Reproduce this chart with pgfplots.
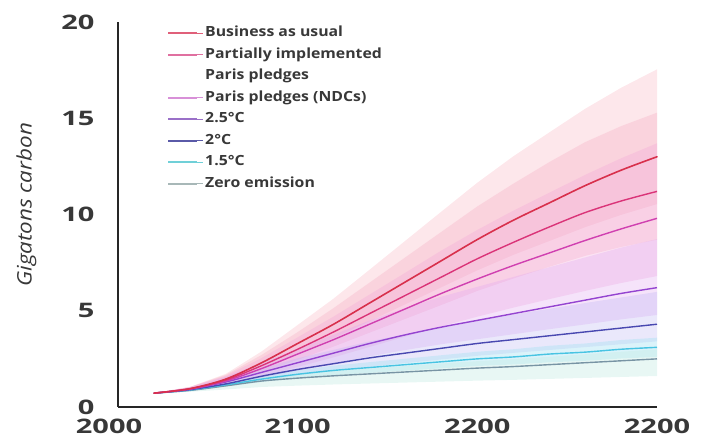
\documentclass[border=0pt]{standalone}
\usepackage{pgfplots}
\pgfplotsset{compat=1.18}
\usepackage{pgfplotstable}
\usepgfplotslibrary{fillbetween}
\usepackage{graphicx}
\usepackage{fontspec}
\setmainfont{Open Sans}

\definecolor{axisgray}{HTML}{262626}
\definecolor{labgray}{HTML}{383838}
\definecolor{cBAU}{HTML}{D8304C}
\definecolor{cPAR}{HTML}{DA3478}
\definecolor{cNDC}{HTML}{D040B0}
\definecolor{cTWOH}{HTML}{9444D0}
\definecolor{cTWO}{HTML}{4848B0}
\definecolor{cONEH}{HTML}{48C4E2}
\definecolor{cZERO}{HTML}{7894A4}
\definecolor{fBAU}{HTML}{F9C2CC}
\definecolor{fPAR}{HTML}{F6A6BE}
\definecolor{fNDC}{HTML}{F2A2D8}
\definecolor{fTWOH}{HTML}{DEA2F0}
\definecolor{fTWO}{HTML}{BAB2F2}
\definecolor{fONEH}{HTML}{A4E2F2}
\definecolor{fZERO}{HTML}{C6ECE4}
\definecolor{lBAU}{HTML}{E0607A}
\definecolor{lPAR}{HTML}{E070A0}
\definecolor{lNDC}{HTML}{D890D8}
\definecolor{lTWOH}{HTML}{9A70C8}
\definecolor{lTWO}{HTML}{5A5AA8}
\definecolor{lONEH}{HTML}{70D0D8}
\definecolor{lZERO}{HTML}{A8B8B8}

\newcommand{\tl}[1]{\scalebox{1.45}[1]{\bfseries #1}}
\newcommand{\lgx}[1]{\scalebox{1.13}[1]{#1}}

\pgfplotstableread{
yr lo mid hi
2020 0.72 0.72 0.72
2040 0.90 0.95 1.04
2060 1.30 1.45 1.72
2080 1.98 2.30 2.89
2100 2.78 3.30 4.26
2120 3.58 4.30 5.63
2140 4.46 5.40 7.13
2160 5.34 6.50 8.64
2180 6.22 7.60 10.15
2200 7.10 8.70 11.65
2220 7.90 9.70 13.02
2240 8.62 10.60 14.26
2260 9.34 11.50 15.49
2280 9.98 12.30 16.58
2300 10.54 13.00 17.54
}\tbau
\pgfplotstableread{
yr lo mid hi
2020 0.72 0.72 0.72
2040 0.90 0.95 1.04
2060 1.24 1.40 1.67
2080 1.81 2.15 2.71
2100 2.45 3.00 3.89
2120 3.14 3.90 5.14
2140 3.86 4.85 6.46
2160 4.58 5.80 7.78
2180 5.30 6.75 9.10
2200 6.03 7.70 10.42
2220 6.67 8.55 11.60
2240 7.28 9.35 12.72
2260 7.85 10.10 13.76
2280 8.31 10.70 14.59
2300 8.69 11.20 15.29
}\tpar
\pgfplotstableread{
yr lo mid hi
2020 0.72 0.72 0.72
2040 0.87 0.94 1.04
2060 1.14 1.35 1.62
2080 1.58 2.00 2.55
2100 2.08 2.75 3.62
2120 2.58 3.50 4.70
2140 3.12 4.30 5.84
2160 3.66 5.10 6.98
2180 4.19 5.90 8.13
2200 4.69 6.65 9.20
2220 5.16 7.35 10.20
2240 5.60 8.00 11.13
2260 6.03 8.65 12.06
2280 6.44 9.25 12.92
2300 6.80 9.80 13.70
}\tndc
\pgfplotstableread{
yr lo mid hi
2020 0.72 0.72 0.72
2040 0.87 0.92 1.01
2060 1.15 1.30 1.57
2080 1.52 1.80 2.30
2100 1.89 2.30 3.03
2120 2.26 2.80 3.76
2140 2.63 3.30 4.49
2160 2.96 3.75 5.14
2180 3.26 4.15 5.73
2200 3.52 4.50 6.24
2220 3.78 4.85 6.75
2240 4.04 5.20 7.26
2260 4.29 5.55 7.77
2280 4.55 5.90 8.28
2300 4.78 6.20 8.72
}\ttwoh
\pgfplotstableread{
yr lo mid hi
2020 0.72 0.72 0.72
2040 0.86 0.90 0.99
2060 1.08 1.20 1.43
2080 1.38 1.60 2.01
2100 1.64 1.95 2.53
2120 1.87 2.25 2.97
2140 2.09 2.55 3.41
2160 2.28 2.80 3.78
2180 2.47 3.05 4.15
2200 2.66 3.30 4.51
2220 2.81 3.50 4.81
2240 2.96 3.70 5.10
2260 3.11 3.90 5.40
2280 3.26 4.10 5.69
2300 3.41 4.30 5.98
}\ttwo
\pgfplotstableread{
yr lo mid hi
2020 0.72 0.72 0.72
2040 0.85 0.88 0.91
2060 1.06 1.15 1.24
2080 1.30 1.45 1.60
2100 1.49 1.70 1.91
2120 1.65 1.90 2.15
2140 1.77 2.05 2.33
2160 1.89 2.20 2.51
2180 2.01 2.35 2.69
2200 2.13 2.50 2.87
2220 2.21 2.60 3.00
2240 2.32 2.75 3.18
2260 2.40 2.85 3.30
2280 2.52 3.00 3.48
2300 2.60 3.10 3.60
}\toneh
\pgfplotstableread{
yr lo mid hi
2020 0.72 0.72 0.72
2040 0.79 0.86 0.90
2060 0.91 1.10 1.21
2080 1.04 1.35 1.53
2100 1.11 1.50 1.72
2120 1.17 1.62 1.87
2140 1.22 1.72 2.00
2160 1.27 1.82 2.13
2180 1.32 1.92 2.26
2200 1.37 2.02 2.38
2220 1.41 2.10 2.49
2240 1.46 2.20 2.61
2260 1.51 2.30 2.74
2280 1.56 2.40 2.87
2300 1.61 2.50 3.00
}\tzero

\begin{document}
\begin{tikzpicture}
\begin{axis}[
  name=ax,
  scale only axis, width=539pt, height=385pt,
  xmin=2000, xmax=2300, ymin=0, ymax=20,
  axis x line*=bottom, axis y line*=left,
  axis line style={line width=2.4pt, color=axisgray, -},
  xtick={2000,2100,2200,2300},
  xticklabels={\tl{2000}\kern18pt,\tl{2100},\tl{2200},\tl{2200}},
  ytick={0,5,10,15,20},
  yticklabels={\tl{0},\tl{5},\tl{10},\tl{15},\tl{20}},
  major tick length=0pt,
  tick label style={font=\fontsize{20}{20}\selectfont, text=labgray},
  xticklabel style={yshift=-8pt},
  yticklabel style={xshift=-20pt},
  ylabel={\scalebox{1.12}[1]{\itshape Gigatons carbon}},
  ylabel style={at={(axis description cs:-0.17,0.525)}, anchor=center, font=\fontsize{20}{20}\selectfont, text=labgray},
  legend image code/.code={\draw[#1, line width=2pt] (0pt,0pt) -- (29pt,0pt); \path (0pt,0pt) -- (35pt,0pt);},
  legend style={at={(axis description cs:0.085,1.0)}, anchor=north west, draw=none, fill=none,
    font=\bfseries\fontsize{14}{16}\selectfont, text=labgray,
    cells={anchor=west, align=left}, row sep=3.5pt,
    nodes={inner sep=2pt, text height=10.5pt, text depth=3.5pt}},
  clip=false,
]
% bands
\addplot[draw=none, name path=Ahi, forget plot] table[x=yr,y=hi]{\tbau};
\addplot[draw=none, name path=Alo, forget plot] table[x=yr,y=lo]{\tbau};
\addplot[fill=fBAU, fill opacity=0.4, draw=none, forget plot] fill between[of=Ahi and Alo];
\addplot[draw=none, name path=Bhi, forget plot] table[x=yr,y=hi]{\tpar};
\addplot[draw=none, name path=Blo, forget plot] table[x=yr,y=lo]{\tpar};
\addplot[fill=fPAR, fill opacity=0.3, draw=none, forget plot] fill between[of=Bhi and Blo];
\addplot[draw=none, name path=Chi, forget plot] table[x=yr,y=hi]{\tndc};
\addplot[draw=none, name path=Clo, forget plot] table[x=yr,y=lo]{\tndc};
\addplot[fill=fNDC, fill opacity=0.3, draw=none, forget plot] fill between[of=Chi and Clo];
\addplot[draw=none, name path=Dhi, forget plot] table[x=yr,y=hi]{\ttwoh};
\addplot[draw=none, name path=Dlo, forget plot] table[x=yr,y=lo]{\ttwoh};
\addplot[fill=fTWOH, fill opacity=0.3, draw=none, forget plot] fill between[of=Dhi and Dlo];
\addplot[draw=none, name path=Ehi, forget plot] table[x=yr,y=hi]{\ttwo};
\addplot[draw=none, name path=Elo, forget plot] table[x=yr,y=lo]{\ttwo};
\addplot[fill=fTWO, fill opacity=0.3, draw=none, forget plot] fill between[of=Ehi and Elo];
\addplot[draw=none, name path=Fhi, forget plot] table[x=yr,y=hi]{\toneh};
\addplot[draw=none, name path=Flo, forget plot] table[x=yr,y=lo]{\toneh};
\addplot[fill=fONEH, fill opacity=0.4, draw=none, forget plot] fill between[of=Fhi and Flo];
\addplot[draw=none, name path=Ghi, forget plot] table[x=yr,y=hi]{\tzero};
\addplot[draw=none, name path=Glo, forget plot] table[x=yr,y=lo]{\tzero};
\addplot[fill=fZERO, fill opacity=0.4, draw=none, forget plot] fill between[of=Ghi and Glo];
% lines
\addplot[cZERO, line width=1.4pt, smooth, forget plot] table[x=yr,y=mid]{\tzero};
\addplot[cONEH, line width=1.4pt, smooth, forget plot] table[x=yr,y=mid]{\toneh};
\addplot[cTWO, line width=1.4pt, smooth, forget plot] table[x=yr,y=mid]{\ttwo};
\addplot[cTWOH, line width=1.4pt, smooth, forget plot] table[x=yr,y=mid]{\ttwoh};
\addplot[cNDC, line width=1.4pt, smooth, forget plot] table[x=yr,y=mid]{\tndc};
\addplot[cPAR, line width=1.4pt, smooth, forget plot] table[x=yr,y=mid]{\tpar};
\addplot[cBAU, line width=1.6pt, smooth, line cap=round, forget plot] table[x=yr,y=mid]{\tbau};
% legend
\addlegendimage{lBAU}\addlegendentry{\lgx{Business as usual}}
\addlegendimage{lPAR}\addlegendentry{\lgx{Partially implemented}}
\addlegendimage{draw opacity=0}\addlegendentry{\lgx{Paris pledges}}
\addlegendimage{lNDC}\addlegendentry{\lgx{Paris pledges (NDCs)}}
\addlegendimage{lTWOH}\addlegendentry{\lgx{2.5°C}}
\addlegendimage{lTWO}\addlegendentry{\lgx{2°C}}
\addlegendimage{lONEH}\addlegendentry{\lgx{1.5°C}}
\addlegendimage{lZERO}\addlegendentry{\lgx{Zero emission}}
\end{axis}
\path (ax.south west) ++(-118pt,-32pt) rectangle ++(718pt,439pt);
\end{tikzpicture}
\end{document}
